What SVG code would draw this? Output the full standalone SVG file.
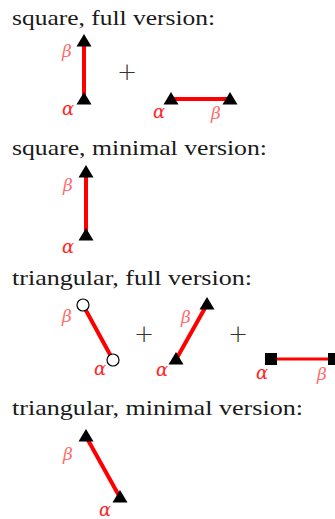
<svg xmlns="http://www.w3.org/2000/svg" xmlns:xlink="http://www.w3.org/1999/xlink" width="335" height="519" viewBox="0 0 335 519">
<style>
.title{font-family:"Liberation Serif","DejaVu Serif",serif;font-size:21px;fill:#1a1a1a}
.plus{font-family:"DejaVu Sans","Liberation Sans",sans-serif;font-size:24px;font-weight:300;fill:#333;text-anchor:middle}
.a{font-family:"DejaVu Serif","Liberation Serif",serif;font-style:italic;font-size:18px;fill:#ff2626}
.b{font-family:"DejaVu Serif","Liberation Serif",serif;font-style:italic;font-size:17px;fill:#ff6a6a}
.edge{stroke:#ff0000;stroke-width:4;fill:none}
.thin{stroke-width:3}
.tri{fill:#000}
.circ{fill:#fff;stroke:#000;stroke-width:1.2}
.sq{fill:#000}
</style>
<defs>
<path id="tri" d="M0,-7.5 L7.5,5 L-7.5,5 Z"/>
</defs>
<g id="titles">
<text class="title" x="12" y="25" textLength="203" lengthAdjust="spacingAndGlyphs">square, full version:</text>
<text class="title" x="12" y="155" textLength="255" lengthAdjust="spacingAndGlyphs">square, minimal version:</text>
<text class="title" x="12" y="285" textLength="240" lengthAdjust="spacingAndGlyphs">triangular, full version:</text>
<text class="title" x="12" y="415" textLength="291" lengthAdjust="spacingAndGlyphs">triangular, minimal version:</text>
</g>
<g id="connectors">
<line class="edge" x1="84" y1="41.5" x2="84" y2="99.5"/>
<line class="edge" x1="171" y1="99" x2="230" y2="99"/>
<line class="edge" x1="86" y1="172.5" x2="86" y2="235.5"/>
<line class="edge" x1="83" y1="305" x2="113" y2="360"/>
<line class="edge" x1="207" y1="304.5" x2="176" y2="359.5"/>
<line class="edge thin" x1="271" y1="359" x2="334" y2="359"/>
<line class="edge" x1="86" y1="436.5" x2="120" y2="497.5"/>
</g>
<g id="sq-full-v">
<use class="tri" href="#tri" x="84" y="41.5"/>
<use class="tri" href="#tri" x="84" y="99.5"/>
<text class="b" x="62" y="57">β</text>
<text class="a" x="62" y="115">α</text>
</g>
<text class="plus" x="127" y="80">+</text>
<g id="sq-full-h">
<use class="tri" href="#tri" x="171" y="99.5"/>
<use class="tri" href="#tri" x="230" y="99.5"/>
<text class="a" x="153" y="118">α</text>
<text class="b" x="211" y="119">β</text>
</g>
<g id="sq-min">
<use class="tri" href="#tri" x="86" y="172.5"/>
<use class="tri" href="#tri" x="86" y="235.5"/>
<text class="b" x="63" y="191">β</text>
<text class="a" x="62" y="253">α</text>
</g>
<g id="tri-full-1">
<circle class="circ" cx="83" cy="305" r="6"/>
<circle class="circ" cx="113" cy="360" r="6"/>
<text class="b" x="62" y="322">β</text>
<text class="a" x="94" y="375">α</text>
</g>
<text class="plus" x="144" y="342">+</text>
<g id="tri-full-2">
<use class="tri" href="#tri" x="207" y="304.5"/>
<use class="tri" href="#tri" x="176" y="359.5"/>
<text class="b" x="181" y="323">β</text>
<text class="a" x="156" y="376">α</text>
</g>
<text class="plus" x="238" y="342">+</text>
<g id="tri-full-3">
<rect class="sq" x="265" y="353" width="12" height="12"/>
<rect class="sq" x="328" y="353" width="12" height="12"/>
<text class="a" x="256" y="379">α</text>
<text class="b" x="317" y="380">β</text>
</g>
<g id="tri-min">
<use class="tri" href="#tri" x="86" y="436.5"/>
<use class="tri" href="#tri" x="120" y="497.5"/>
<text class="b" x="63" y="460">β</text>
<text class="a" x="99" y="516">α</text>
</g>
</svg>
